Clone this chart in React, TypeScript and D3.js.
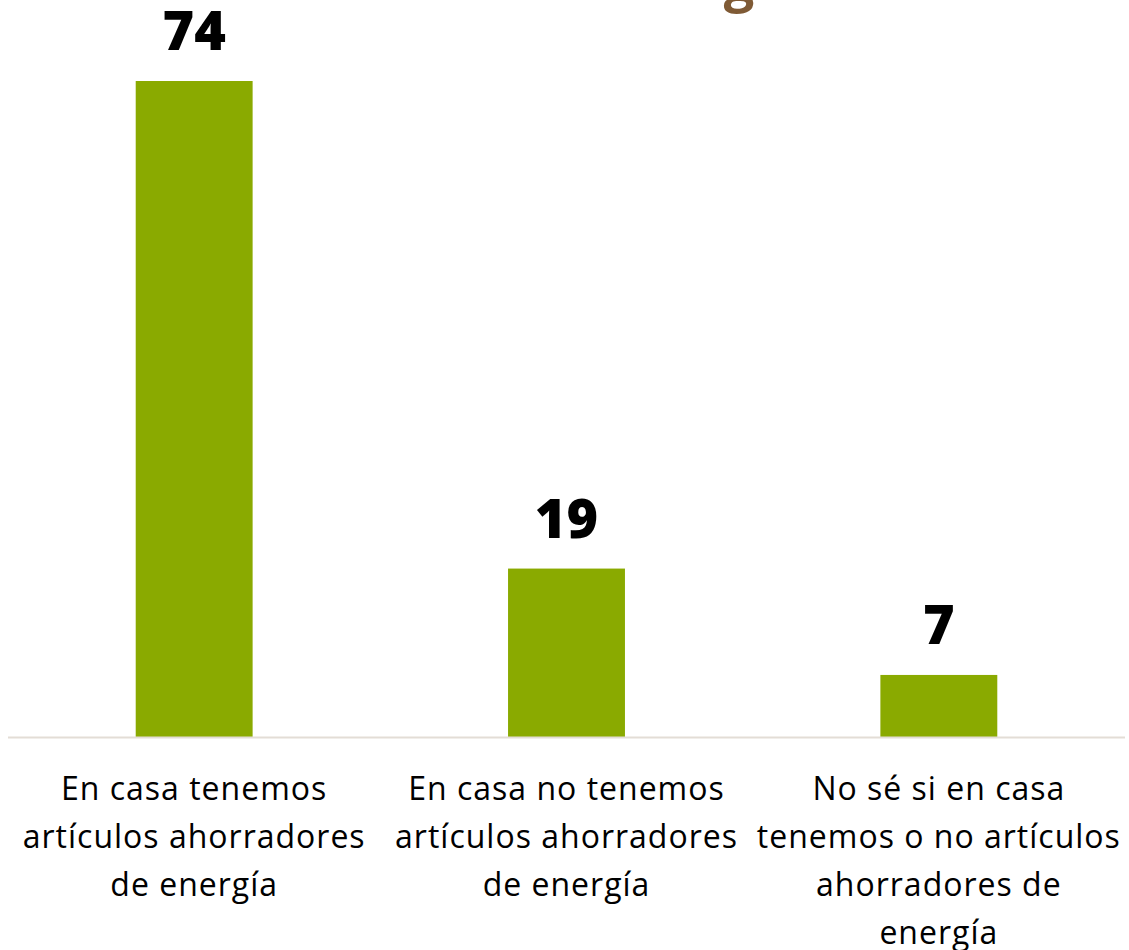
import React from "react";
import * as d3 from "d3";

const categories = ["cat1", "cat2", "cat3"];
const values = [74, 19, 7];
const labelLines = [
  ["En casa tenemos", "artículos ahorradores", "de energía"],
  ["En casa no tenemos", "artículos ahorradores", "de energía"],
  ["No sé si en casa", "tenemos o no artículos", "ahorradores de", "energía"],
];

const W = 1129;
const H = 950;
const FONT = "'Open Sans', 'Noto Sans', sans-serif";

export default function App() {
  const x = d3.scaleBand<string>().domain(categories).range([8, 1125]).paddingInner(0.686).paddingOuter(0.343);
  const y = d3.scaleLinear().domain([0, 74]).range([737, 81]);
  return (
    <svg width={W} height={H} style={{ position: "absolute", left: 0, top: 0 }}>
      <rect width={W} height={H} fill="#fff" />
      <text x={739} y={1} fontFamily={FONT} fontWeight={700} fontSize={54} fill="#7f5a35" textAnchor="middle">g</text>
      {categories.map((c, i) => (
        <g key={c}>
          <rect x={x(c)} y={y(values[i])} width={x.bandwidth()} height={y(0) - y(values[i])} fill="#8aaa00" />
          <text x={x(c)! + x.bandwidth() / 2} y={y(values[i]) - 31} textAnchor="middle" fontFamily={FONT} fontWeight={800} fontSize={54} fill="#000">{values[i]}</text>
          {labelLines[i].map((l, j) => (
            <text key={j} x={x(c)! + x.bandwidth() / 2} y={800 + j * 48} textAnchor="middle" fontFamily={FONT} fontSize={32} letterSpacing={1} fill="#000">{l}</text>
          ))}
        </g>
      ))}
      <line x1={8} x2={1125} y1={737.5} y2={737.5} stroke="#e3ddd6" strokeWidth={2} />
    </svg>
  );
}
